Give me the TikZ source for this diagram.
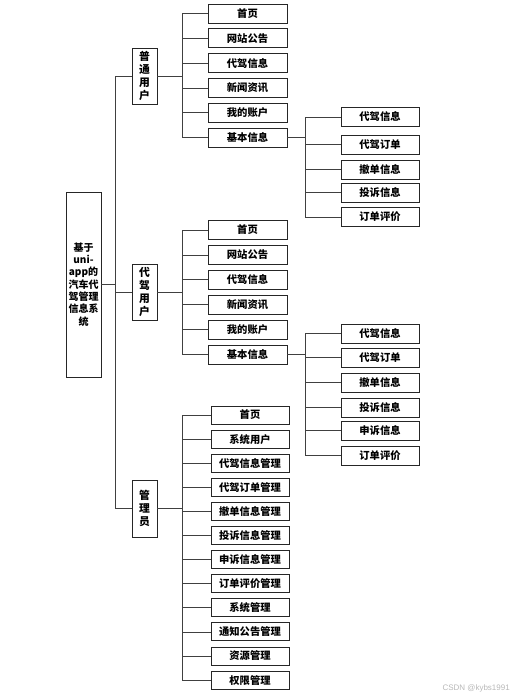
\documentclass[tikz,border=0pt]{standalone}
\usepackage{fontspec}
\setmainfont{Noto Sans CJK SC}
\newfontfamily\wmfont{Liberation Sans}
\begin{document}
\begin{tikzpicture}[x=1pt,y=-1pt,
  box/.style={draw=black!85,line width=0.9pt,rectangle,inner sep=0pt,font=\bfseries\fontsize{10.3}{11}\selectfont},
  lvtwo/.style={box,minimum width=79pt,minimum height=19pt},
  lvadm/.style={box,minimum width=78pt,minimum height=18pt},
  vbox/.style={box,minimum width=25pt,align=center},
  conn/.style={draw=black!75,line width=0.8pt}]
\useasboundingbox (0,0) rectangle (515,699);
% root
\node[box,minimum width=35pt,minimum height=185pt,align=center,font=\bfseries\fontsize{10}{12.3}\selectfont] (root) at (83.5,284.5) {基于\\uni-\\app的\\汽车代\\驾管理\\信息系\\统};
% level 1
\node[vbox,minimum height=56pt,font=\bfseries\fontsize{10.8}{13}\selectfont] (u) at (144.5,76) {普\\通\\用\\户};
\node[vbox,minimum height=56pt,font=\bfseries\fontsize{10.8}{13}\selectfont] (d) at (144.5,292) {代\\驾\\用\\户};
\node[vbox,minimum height=57pt,font=\bfseries\fontsize{10.8}{13}\selectfont] (ad) at (144.5,508.5) {管\\理\\员};
\coordinate (trunk) at (115,0);
\draw[conn] (root.east) -- (root.east -| trunk);
\draw[conn] (u.west) -- (u.west -| trunk) -- (ad.west -| trunk) -- (ad.west);
\draw[conn] (d.west) -- (d.west -| trunk);
% user level 2
\coordinate (bus) at (182,0);
\foreach \t [count=\i] in {首页,网站公告,代驾信息,新闻资讯,我的账户,基本信息}{
  \node[lvtwo] (u\i) at (247.5,{13.5+24.8*(\i-1)}) {\t};
  \draw[conn] (bus |- u\i.west) -- (u\i.west);
}
\draw[conn] (u.east) -- (u.east -| bus);
\draw[conn] (bus |- u1.west) -- (bus |- u6.west);
% user level 3
\coordinate (busb) at (305,0);
\foreach \t/\y [count=\i] in {代驾信息/117,代驾订单/144.5,撤单信息/169.5,投诉信息/192.5,订单评价/217}{
  \node[lvtwo,minimum width=78pt] (uu\i) at (380,\y) {\t};
  \draw[conn] (busb |- uu\i.west) -- (uu\i.west);
}
\draw[conn] (u6.east) -- (u6.east -| busb);
\draw[conn] (busb |- uu1.west) -- (busb |- uu5.west);
% driver level 2
\foreach \t [count=\i] in {首页,网站公告,代驾信息,新闻资讯,我的账户,基本信息}{
  \node[lvtwo] (d\i) at (247.5,{230+24.9*(\i-1)}) {\t};
  \draw[conn] (bus |- d\i.west) -- (d\i.west);
}
\draw[conn] (d.east) -- (d.east -| bus);
\draw[conn] (bus |- d1.west) -- (bus |- d6.west);
% driver level 3
\foreach \t/\y [count=\i] in {代驾信息/333.5,代驾订单/357.5,撤单信息/382.5,投诉信息/407.5,申诉信息/430.5,订单评价/455.5}{
  \node[lvtwo,minimum width=78pt] (dd\i) at (380,\y) {\t};
  \draw[conn] (busb |- dd\i.west) -- (dd\i.west);
}
\draw[conn] (d6.east) -- (d6.east -| busb);
\draw[conn] (busb |- dd1.west) -- (busb |- dd6.west);
% admin
\foreach \t [count=\i] in {首页,系统用户,代驾信息管理,代驾订单管理,撤单信息管理,投诉信息管理,申诉信息管理,订单评价管理,系统管理,通知公告管理,资源管理,权限管理}{
  \node[lvadm] (a\i) at (250,{415+24.1*(\i-1)}) {\t};
  \draw[conn] (bus |- a\i.west) -- (a\i.west);
}
\draw[conn] (ad.east) -- (ad.east -| bus);
\draw[conn] (bus |- a1.west) -- (bus |- a12.west);
% watermark
\node[text=black!28,font=\wmfont\fontsize{8}{9}\selectfont,anchor=east,inner sep=0pt] (wm) at (510,688) {CSDN @kybs1991};
\end{tikzpicture}
\end{document}
